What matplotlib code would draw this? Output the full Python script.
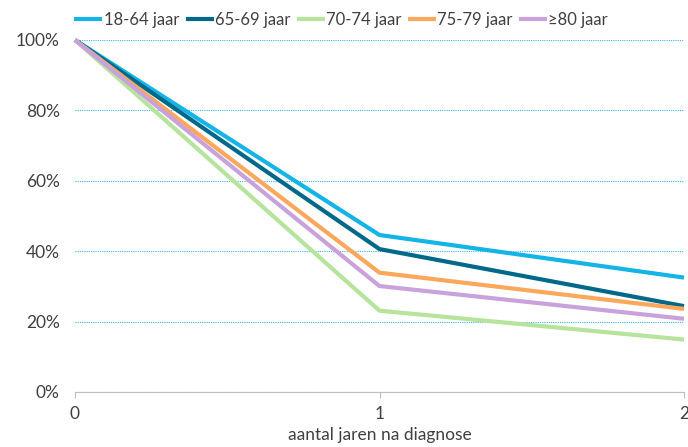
import matplotlib
matplotlib.use("Agg")
import matplotlib.pyplot as plt
from matplotlib.ticker import PercentFormatter

plt.rcParams['font.family'] = ['Lato', 'DejaVu Sans']

years = [0, 1, 2]
groups = ["18-64 jaar", "65-69 jaar", "70-74 jaar", "75-79 jaar", "≥80 jaar"]
s_18_64 = [100, 44.6, 32.5]
s_65_69 = [100, 40.6, 24.4]
s_70_74 = [100, 23.1, 14.9]
s_75_79 = [100, 33.9, 23.6]
s_80 = [100, 30.1, 20.8]
colors = ["#14b4e6", "#00698a", "#b7e49c", "#fba75c", "#c9a2dc"]

fig = plt.figure(figsize=(6.88, 4.47), dpi=100)
ax = fig.add_axes([75/688, 1-392/447, 609/688, 352/447])

for vals, lab, col in zip([s_18_64, s_65_69, s_70_74, s_75_79, s_80], groups, colors):
    ax.plot(years, vals, color=col, lw=3, label=lab, solid_capstyle='butt', clip_on=False)

ax.set_xlim(0, 2)
ax.set_ylim(0, 100)
ax.set_xticks(years)
ax.set_yticks(range(0, 101, 20))
ax.yaxis.set_major_formatter(PercentFormatter(decimals=0))
ax.grid(axis='y', color='#33bbee', linestyle=(0, (1, 1)), lw=0.8)
ax.set_axisbelow(True)
for s in ['top', 'right', 'left']:
    ax.spines[s].set_visible(False)
ax.spines['bottom'].set_color('#bfbfbf')
ax.tick_params(axis='y', length=0, labelsize=12.5, colors='#404040', pad=11)
ax.tick_params(axis='x', length=4, color='#bfbfbf', labelsize=12.5, labelcolor='#404040', pad=6)
ax.set_xlabel("aantal jaren na diagnose", fontsize=12.5, color='#404040', labelpad=4)

ax.legend(loc='lower left', bbox_to_anchor=(-0.02, 1.0), ncol=5, frameon=False,
          fontsize=12, handlelength=1.68, handletextpad=0.1, columnspacing=0.36,
          borderaxespad=0.3, labelcolor='#404040')

fig.savefig("out.png", dpi=100)
